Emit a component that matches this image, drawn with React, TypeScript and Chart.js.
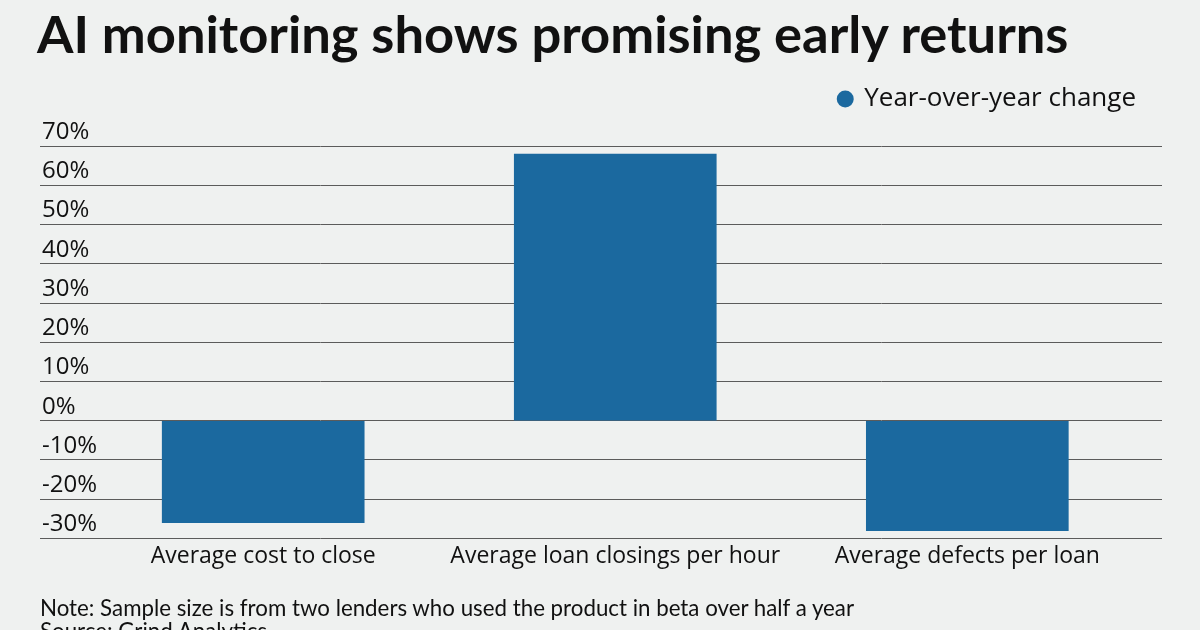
import React, { useEffect, useRef } from 'react';
import { Chart, registerables } from 'chart.js';

Chart.register(...registerables);

const TITLE = 'AI monitoring shows promising early returns';
const SERIES_LABEL = 'Year-over-year change';
const categories = ['Average cost to close', 'Average loan closings per hour', 'Average defects per loan'];
const yoyChange = [-26, 68, -28];
const yTickValues = [-30, -20, -10, 0, 10, 20, 30, 40, 50, 60, 70];
const noteLines = [
  'Note: Sample size is from two lenders who used the product in beta over half a year',
  'Source: Grind Analytics',
];

const BG = '#eff1f0';
const BAR = '#1b699f';
const TEXT = '#111111';
const TITLE_FONT = 'Lato, "Noto Sans", sans-serif';
const BODY_FONT = '"Open Sans", "Noto Sans", sans-serif';

export default function App() {
  const canvasRef = useRef<HTMLCanvasElement | null>(null);

  useEffect(() => {
    let chart: Chart | null = null;
    let cancelled = false;
    const make = () => {
      if (cancelled || !canvasRef.current) return;
      chart = new Chart(canvasRef.current, {
        type: 'bar',
        data: {
          datasets: [
            {
              label: SERIES_LABEL,
              data: categories.map((_, i) => ({ x: i, y: yoyChange[i] })),
              backgroundColor: BAR,
              borderWidth: 0,
              barThickness: 202,
            },
          ],
        },
        options: {
          animation: false,
          responsive: false,
          layout: { padding: { left: 36, right: 38, top: 60, bottom: 56 } },
          plugins: {
            legend: {
              position: 'top',
              align: 'end',
              labels: {
                usePointStyle: true,
                pointStyle: 'circle',
                boxWidth: 12,
                boxHeight: 12,
                padding: 26,
                color: TEXT,
                font: { family: BODY_FONT, size: 26 },
              },
            },
            subtitle: {
              display: true,
              text: '',
              weight: 500,
              padding: { top: 0, bottom: 23 },
              font: { size: 1, lineHeight: 1.2 },
            },
            tooltip: { enabled: false },
          },
          scales: {
            x: {
              type: 'linear',
              offset: false,
              min: -0.634,
              max: 2.553,
              grid: { display: false, offset: false, drawTicks: false },
              border: { display: false },
              afterBuildTicks: (s: any) => {
                s.ticks = categories.map((_, i) => ({ value: i }));
              },
              ticks: {
                callback: (v: any) => categories[v as number] ?? '',
                autoSkip: false,
                maxRotation: 0,
                padding: 4,
                color: TEXT,
                font: { family: BODY_FONT, size: 23 },
              },
            },
            y: {
              min: -30,
              max: 70,
              afterBuildTicks: (s: any) => {
                s.ticks = yTickValues.map((v) => ({ value: v }));
              },
              grid: { color: '#5b5b5b', lineWidth: 1, drawTicks: false },
              border: { display: false },
              ticks: {
                mirror: true,
                padding: 2,
                labelOffset: -14,
                callback: (v: any) => `${v}%`,
                color: TEXT,
                font: { family: BODY_FONT, size: 24 },
              },
            },
          },
        },
      } as any);
    };
    const fontsReady = (document as any).fonts
      ? Promise.all([
          (document as any).fonts.load(`22px "Open Sans"`),
          (document as any).fonts.load(`22px Lato`),
          (document as any).fonts.load(`bold 52px Lato`),
        ]).catch(() => null)
      : Promise.resolve(null);
    fontsReady.then(make);
    return () => {
      cancelled = true;
      if (chart) chart.destroy();
    };
  }, []);

  return (
    <div
      style={{
        position: 'absolute',
        left: 0,
        top: 0,
        width: 1200,
        height: 630,
        background: BG,
        overflow: 'hidden',
        color: TEXT,
      }}
    >
      <canvas
        ref={canvasRef}
        width={1200}
        height={630}
        style={{ position: 'absolute', left: 0, top: 0, width: 1200, height: 630 }}
      />
      <div
        style={{
          position: 'absolute',
          left: 37,
          top: 7,
          fontFamily: TITLE_FONT,
          fontSize: 52.5,
          fontWeight: 700,
          lineHeight: 1,
          whiteSpace: 'nowrap',
        }}
      >
        {TITLE}
      </div>
      <div
        style={{
          position: 'absolute',
          left: 40,
          top: 596,
          fontFamily: TITLE_FONT,
          fontSize: 22.3,
          lineHeight: '23px',
          whiteSpace: 'nowrap',
        }}
      >
        {noteLines.map((l) => (
          <div key={l}>{l}</div>
        ))}
      </div>
    </div>
  );
}
